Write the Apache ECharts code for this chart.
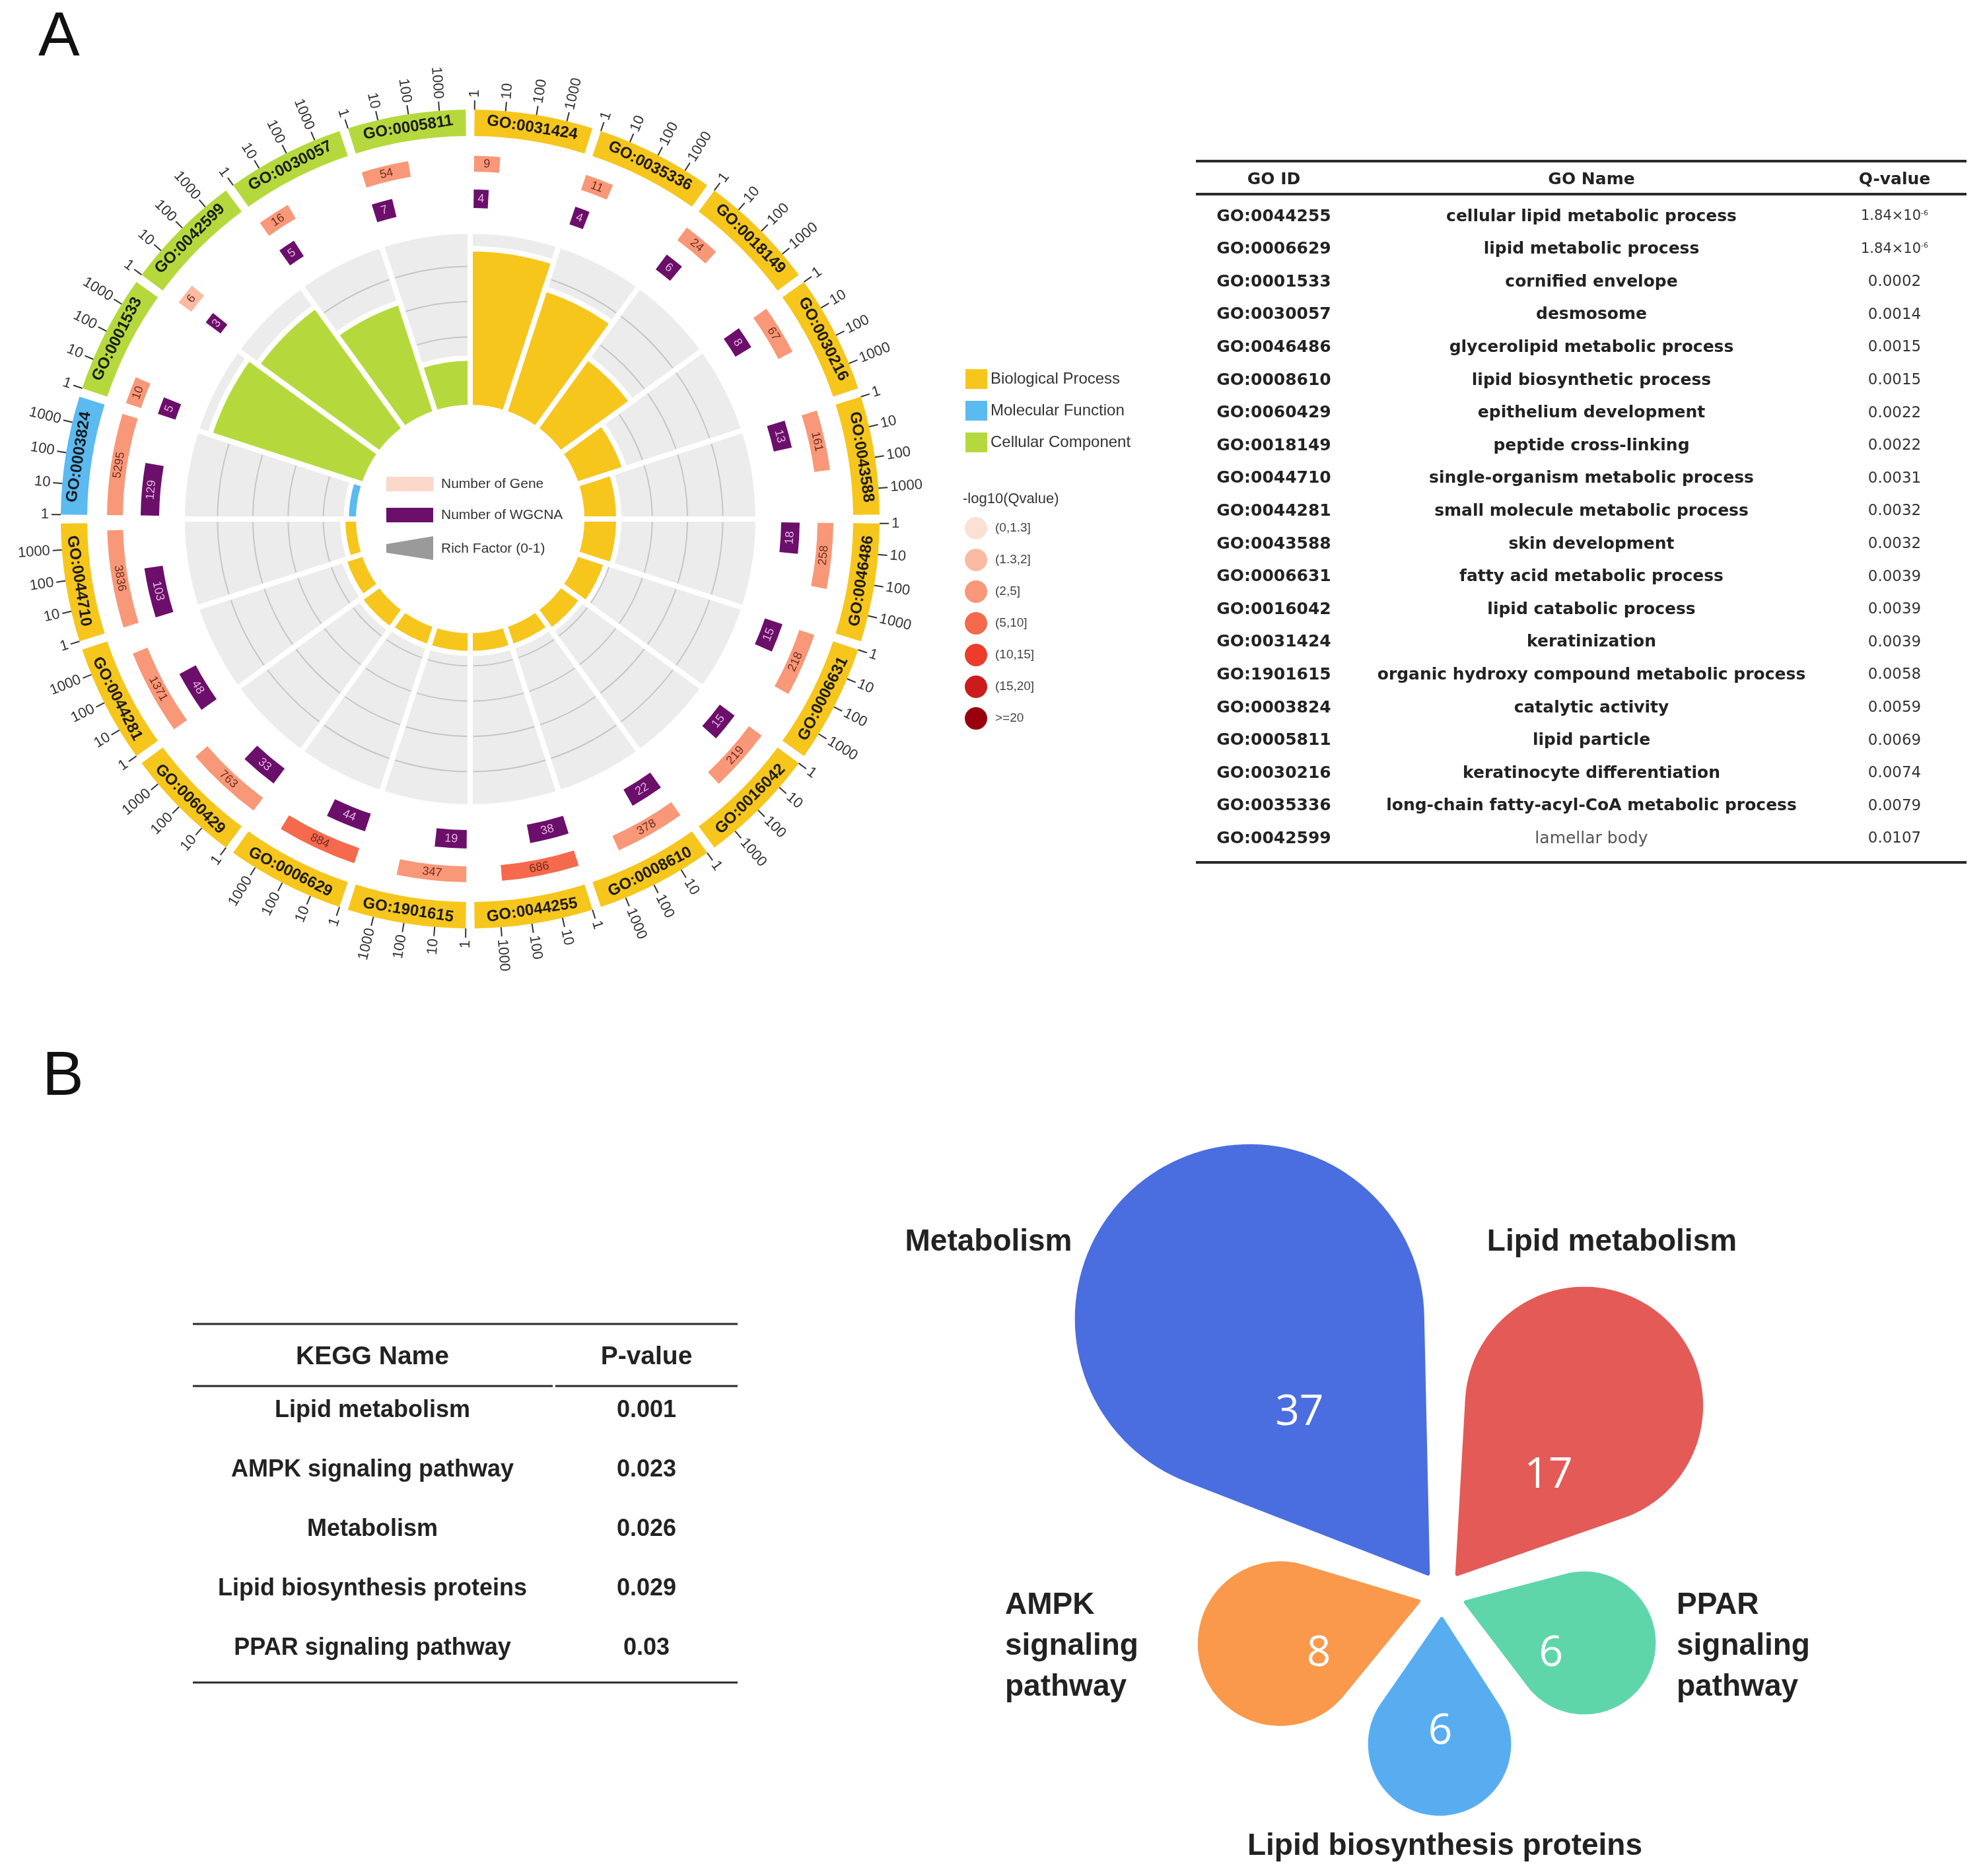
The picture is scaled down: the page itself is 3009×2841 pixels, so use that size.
<!DOCTYPE html>
<html><head><meta charset="utf-8">
<script src="https://cdn.jsdelivr.net/npm/echarts@6/dist/echarts.min.js"></script>
<style>html,body{margin:0;padding:0;background:#fff}#c{width:3009px;height:2841px}</style>
</head><body><div id="c"></div>
<script>
// ================= DATA =================
// Panel A – GO circle (clockwise from 12 o'clock)
const goIds = ['GO:0031424','GO:0035336','GO:0018149','GO:0030216','GO:0043588','GO:0046486','GO:0006631','GO:0016042','GO:0008610','GO:0044255','GO:1901615','GO:0006629','GO:0060429','GO:0044281','GO:0044710','GO:0003824','GO:0001533','GO:0042599','GO:0030057','GO:0005811'];
const goCategory = ['BP','BP','BP','BP','BP','BP','BP','BP','BP','BP','BP','BP','BP','BP','BP','MF','CC','CC','CC','CC'];
const geneCounts = [9,11,24,67,161,258,218,219,378,686,347,884,763,1371,3836,5295,10,6,16,54];
const wgcnaCounts = [4,4,6,8,13,18,15,15,22,38,19,44,33,48,103,129,5,3,5,7];
const richFactor = [0.90,0.74,0.50,0.29,0.21,0.21,0.18,0.15,0.13,0.13,0.13,0.13,0.14,0.12,0.09,0.07,0.92,0.86,0.66,0.28];
const categoryKeys = ['BP','MF','CC'];
const categoryNames = ['Biological Process','Molecular Function','Cellular Component'];
const tickValues = [1,10,100,1000];
const richGridLevels = [0.2,0.4,0.6,0.8];
const qLegendLabels = ['(0,1.3]','(1.3,2]','(2,5]','(5,10]','(10,15]','(15,20]','>=20'];
const qLegendBounds = [[0,1.3],[1.3,2],[2,5],[5,10],[10,15],[15,20],[20,null]];

// Panel A – GO table
const tableIds = ['GO:0044255','GO:0006629','GO:0001533','GO:0030057','GO:0046486','GO:0008610','GO:0060429','GO:0018149','GO:0044710','GO:0044281','GO:0043588','GO:0006631','GO:0016042','GO:0031424','GO:1901615','GO:0003824','GO:0005811','GO:0030216','GO:0035336','GO:0042599'];
const tableNames = ['cellular lipid metabolic process','lipid metabolic process','cornified envelope','desmosome','glycerolipid metabolic process','lipid biosynthetic process','epithelium development','peptide cross-linking','single-organism metabolic process','small molecule metabolic process','skin development','fatty acid metabolic process','lipid catabolic process','keratinization','organic hydroxy compound metabolic process','catalytic activity','lipid particle','keratinocyte differentiation','long-chain fatty-acyl-CoA metabolic process','lamellar body'];
const tableQ = [1.84e-6,1.84e-6,0.0002,0.0014,0.0015,0.0015,0.0022,0.0022,0.0031,0.0032,0.0032,0.0039,0.0039,0.0039,0.0058,0.0059,0.0069,0.0074,0.0079,0.0107];

// Panel B – KEGG table and petal chart
const keggNames = ['Lipid metabolism','AMPK signaling pathway','Metabolism','Lipid biosynthesis proteins','PPAR signaling pathway'];
const keggP = ['0.001','0.023','0.026','0.029','0.03'];
const petalNames = ['Metabolism','Lipid metabolism','PPAR signaling pathway','Lipid biosynthesis proteins','AMPK signaling pathway'];
const petalCounts = [37,17,6,6,8];

// ================= STYLE / LAYOUT =================
const CX = 712, CY = 786;
const catColors = {BP:'#f6c61c', MF:'#5bbaf0', CC:'#b5d93c'};
const qColors = ['#fde0d4','#fbbba3','#f99878','#f5694c','#ee3b2c','#cb1b1d','#99000d'];
const petalColors = ['#4a6ee0','#e45a57','#5ed6a9','#58adf1','#fa994b'];
const SECTOR = 360 / goIds.length;
const PAD_DEG = 0.62;
const DEG_PER_DECADE = 4.35;
const RING = {wgcna:[471,499], gene:[526,550], label:[580,620], tick:[620,634], tickLabel:638};
const PETAL_START = -35, PETAL_STEP = 72, PETAL_TIP = 0.88, PETAL_STRETCH = 1.8;

// ================= HELPERS =================
const qOf = id => tableQ[tableIds.indexOf(id)];
function scrAngle(p, cs){ return Math.atan2(p[1]-cs.cy, p[0]-cs.cx); }
function dist(p, cs){ return Math.hypot(p[0]-cs.cx, p[1]-cs.cy); }
function normRot(r){ let f=false; while(r>Math.PI/2){r-=Math.PI;f=!f;} while(r<=-Math.PI/2){r+=Math.PI;f=!f;} return {rot:r, flip:f}; }
function tangentRot(t){ return normRot(-(t+Math.PI/2)).rot; }
function radialRot(t){ return normRot(-t); }
function sectorShape(api, cs, r0, r1, a0, a1){
  const p0 = api.coord([r1, a0]), p1 = api.coord([r1, a1]), q0 = api.coord([r0, a0]);
  const t0 = scrAngle(p0, cs); let t1 = scrAngle(p1, cs);
  while (t1 <= t0) t1 += 2*Math.PI;
  return {cx:cs.cx, cy:cs.cy, r0:dist(q0,cs), r:dist(p0,cs), startAngle:t0, endAngle:t1, clockwise:true};
}
const sectorStart = i => i*SECTOR + PAD_DEG;

// grey background + grid arcs of rich-factor track
function gridRender(params, api){
  const cs = params.coordSys; const i = api.value(1);
  const half = Math.abs(scrAngle(api.coord([0,1]),cs) - scrAngle(api.coord([0,0]),cs))/2;
  const tc = scrAngle(api.coord([0,i]), cs);
  const rIn = dist(api.coord([0,i]),cs), rOut = dist(api.coord([1,i]),cs);
  const ch = [{type:'sector', shape:{cx:cs.cx, cy:cs.cy, r0:rIn, r:rOut, startAngle:tc-half, endAngle:tc+half, clockwise:true},
    style:{fill:'#ececec', stroke:'#fff', lineWidth:8}}];
  richGridLevels.forEach(lv => {
    const r = dist(api.coord([lv,i]),cs); const ins = 4.5/r;
    ch.push({type:'arc', shape:{cx:cs.cx, cy:cs.cy, r, startAngle:tc-half+ins, endAngle:tc+half-ins, clockwise:true},
      style:{stroke:'#c6c6c6', lineWidth:2, fill:'none'}});
  });
  return {type:'group', children:ch};
}
function labelRingRender(params, api){
  const cs = params.coordSys; const i = api.value(0);
  const a0 = i*SECTOR + PAD_DEG, a1 = (i+1)*SECTOR - PAD_DEG;
  const sh = sectorShape(api, cs, RING.label[0], RING.label[1], a0, a1);
  const mid = api.coord([(RING.label[0]+RING.label[1])/2, (a0+a1)/2]);
  return {type:'group', children:[
    {type:'sector', shape:sh, style:{fill:catColors[goCategory[i]]}},
    {type:'text', x:mid[0], y:mid[1], rotation:tangentRot(scrAngle(mid,cs)),
      style:{text:goIds[i], font:'bold 24px "Liberation Sans"', fill:'#1b1b1b', align:'center', verticalAlign:'middle'}}
  ]};
}
function tickRender(params, api){
  const cs = params.coordSys; const i = api.value(0); const ch = [];
  tickValues.forEach(tv => {
    const a = sectorStart(i) + Math.log10(tv)*DEG_PER_DECADE;
    const p0 = api.coord([RING.tick[0],a]), p1 = api.coord([RING.tick[1],a]), pl = api.coord([RING.tickLabel,a]);
    ch.push({type:'line', shape:{x1:p0[0],y1:p0[1],x2:p1[0],y2:p1[1]}, style:{stroke:'#333', lineWidth:2}});
    const rr = radialRot(scrAngle(pl,cs));
    ch.push({type:'text', x:pl[0], y:pl[1], rotation:rr.rot,
      style:{text:String(tv), align:rr.flip?'right':'left', verticalAlign:'middle', font:'22px "Liberation Sans"', fill:'#333'}});
  });
  return {type:'group', children:ch};
}
function countBarRender(ring, textColor){
  return function(params, api){
    const cs = params.coordSys; const i = api.value(0), n = api.value(1);
    const a0 = sectorStart(i), a1 = a0 + Math.log10(n)*DEG_PER_DECADE;
    const sh = sectorShape(api, cs, ring[0], ring[1], a0, a1);
    const mid = api.coord([(ring[0]+ring[1])/2, (a0+a1)/2]);
    return {type:'group', children:[
      {type:'sector', shape:sh, style:{fill:api.visual('color')}},
      {type:'text', x:mid[0], y:mid[1], rotation:tangentRot(scrAngle(mid,cs)),
        style:{text:String(n), font:'18px "Liberation Sans"', fill:textColor, align:'center', verticalAlign:'middle'}}
    ]};
  };
}
function petalRender(params, api){
  const cs = params.coordSys; const k = api.value(0), v = api.value(1);
  const s = Math.sqrt(v); const ang = PETAL_START + k*PETAL_STEP;
  const T = api.coord([PETAL_TIP, ang]);
  const C = api.coord([PETAL_TIP + PETAL_STRETCH*s, ang]);
  const rho = dist(api.coord([s, ang]), cs);
  const dx = T[0]-C[0], dy = T[1]-C[1]; const d = Math.hypot(dx,dy);
  const beta = Math.atan2(dy,dx), alpha = Math.asin(rho/d);
  const sA = beta + (Math.PI/2 - alpha), eA = beta + 2*Math.PI - (Math.PI/2 - alpha);
  const pts = [[T[0],T[1]]];
  for (let j=0;j<=90;j++){ const a = sA + (eA-sA)*j/90; pts.push([C[0]+rho*Math.cos(a), C[1]+rho*Math.sin(a)]); }
  const lx = C[0] + 0.28*dx, ly = C[1] + 0.28*dy + 34;
  return {type:'group', children:[
    {type:'polygon', shape:{points:pts}, style:{fill:petalColors[k], stroke:petalColors[k], lineWidth:6, lineJoin:'round'}},
    {type:'text', x:lx, y:ly, style:{text:String(v), font:'64px "Liberation Sans Narrow", "Open Sans"', fill:'#fff', align:'center', verticalAlign:'middle'}}
  ]};
}

// ================= SERIES =================
const series = [];
series.push({type:'custom', name:'grid', coordinateSystem:'polar', polarIndex:0, z:1, silent:true,
  data: goIds.map((id,i)=>[0,i]), renderItem: gridRender});
categoryKeys.forEach((key, ci) => {
  series.push({type:'bar', name:categoryNames[ci], coordinateSystem:'polar', polarIndex:0, z:2,
    data: richFactor.map((v,i)=> goCategory[i]===key ? v : null),
    barCategoryGap:'0%', barGap:'-100%', silent:true,
    itemStyle:{color:catColors[key], borderColor:'#fff', borderWidth:8}});
});
series.push({type:'custom', name:'labels', coordinateSystem:'polar', polarIndex:1, z:3, silent:true,
  data: goIds.map((id,i)=>[i,0]), renderItem: labelRingRender});
series.push({type:'custom', name:'ticks', coordinateSystem:'polar', polarIndex:1, z:3, silent:true,
  data: goIds.map((id,i)=>[i,0]), renderItem: tickRender});
const GENE_SERIES = series.length;
series.push({type:'custom', name:'Number of Gene', coordinateSystem:'polar', polarIndex:1, z:3, silent:true,
  data: geneCounts.map((n,i)=>[i, n, -Math.log10(qOf(goIds[i]))]), renderItem: countBarRender(RING.gene, '#6d2e22')});
series.push({type:'custom', name:'Number of WGCNA', coordinateSystem:'polar', polarIndex:1, z:3, silent:true,
  itemStyle:{color:'#6b0f6a'},
  data: wgcnaCounts.map((n,i)=>[i, n]), renderItem: countBarRender(RING.wgcna, '#e3b3df')});
series.push({type:'custom', name:'petals', coordinateSystem:'polar', polarIndex:2, z:3, silent:true,
  data: petalCounts.map((v,k)=>[k, v]), renderItem: petalRender});

// ================= GRAPHIC (letters, tables, legends text) =================
const g = [];
const T = (x,y,text,font,opt) => Object.assign({type:'text', x, y, style:Object.assign({text, font, fill:'#222', align:'center', verticalAlign:'middle'}, opt||{})});
const L = (x1,y1,x2,y2,w) => ({type:'line', shape:{x1,y1,x2,y2}, style:{stroke:'#2a2a2a', lineWidth:w}});
g.push(T(58,58,'A','94px "Liberation Sans"',{align:'left', fill:'#111'}));
g.push(T(64,1632,'B','94px "Liberation Sans"',{align:'left', fill:'#111'}));
// inner legend
g.push({type:'rect', shape:{x:585,y:722,width:71,height:22}, style:{fill:'#fcd8cb'}});
g.push({type:'rect', shape:{x:585,y:769,width:71,height:22}, style:{fill:'#6b0f6a'}});
g.push({type:'polygon', shape:{points:[[585,824],[656,812],[656,848],[585,837]]}, style:{fill:'#9a9a9a'}});
g.push(T(668,733,'Number of Gene','21px "Liberation Sans"',{align:'left', fill:'#333'}));
g.push(T(668,780,'Number of WGCNA','21px "Liberation Sans"',{align:'left', fill:'#333'}));
g.push(T(668,831,'Rich Factor (0-1)','21px "Liberation Sans"',{align:'left', fill:'#333'}));
g.push(T(1458,756,'-log10(Qvalue)','22px "Liberation Sans"',{align:'left', fill:'#333'}));
// GO table
const gx0 = 1811, gx1 = 2978;
g.push(L(gx0,244,gx1,244,4)); g.push(L(gx0,294,gx1,294,4)); g.push(L(gx0,1306,gx1,1306,4));
const colId = 1929, colName = 2410, colQ = 2869;
const TF = 'bold 25px "DejaVu Sans"';
g.push(T(colId,272,'GO ID',TF));
g.push(T(colName,272,'GO Name',TF));
g.push(T(colQ,272,'Q-value',TF));
tableIds.forEach((id,k) => {
  const y = 328 + k*49.6;
  g.push(T(colId,y,id,TF));
  const light = tableNames[k] === 'lamellar body';
  g.push(T(colName,y,tableNames[k], light ? '25px "DejaVu Sans"' : TF, light?{fill:'#555'}:{}));
  const q = tableQ[k];
  if (q < 1e-4) {
    const e = Math.floor(Math.log10(q)); const m = (q/Math.pow(10,e)).toFixed(2);
    g.push({type:'text', x:colQ, y:y, style:{text:'{a|'+m+'×10}{s|'+e+'}', align:'center', verticalAlign:'middle',
      rich:{a:{font:'21px "DejaVu Sans"', fill:'#333'}, s:{font:'11px "DejaVu Sans"', fill:'#333', verticalAlign:'top'}}}});
  } else {
    g.push(T(colQ,y,q.toFixed(4),'23px "DejaVu Sans"',{fill:'#333'}));
  }
});
// KEGG table
g.push(L(292,2005,1117,2005,3)); g.push(L(292,2099,837,2099,3)); g.push(L(841,2099,1117,2099,3)); g.push(L(292,2548,1117,2548,3));
g.push(T(564,2055,'KEGG Name','bold 39px "Liberation Sans"'));
g.push(T(979,2055,'P-value','bold 39px "Liberation Sans"'));
keggNames.forEach((n,k) => {
  const y = 2136 + k*90;
  g.push(T(564,y,n,'bold 36px "Liberation Sans"'));
  g.push(T(979,y,keggP[k],'bold 36px "Liberation Sans"'));
});
// petal labels
const PF = 'bold 46px "Liberation Sans"';
g.push(T(1497,1881,petalNames[0],PF));
g.push(T(2441,1881,petalNames[1],PF));
g.push(T(2539,2493,petalNames[2].replace(/ /g,'\n'),PF,{align:'left', lineHeight:62}));
g.push(T(2188,2796,petalNames[3],PF));
g.push(T(1522,2493,petalNames[4].replace(/ /g,'\n'),PF,{align:'left', lineHeight:62}));

// ================= OPTION =================
const option = {
  animation:false,
  backgroundColor:'#fff',
  polar:[
    {center:[CX,CY], radius:[169,436]},
    {center:[CX,CY], radius:[0,700]},
    {center:[2184,2414], radius:[0,602]}
  ],
  angleAxis:[
    {polarIndex:0, type:'category', data:goIds, startAngle:90, clockwise:true, show:false},
    {polarIndex:1, type:'value', min:0, max:360, startAngle:90, clockwise:true, show:false},
    {polarIndex:2, type:'value', min:0, max:360, startAngle:90, clockwise:true, show:false}
  ],
  radiusAxis:[
    {polarIndex:0, type:'value', min:0, max:1, show:false},
    {polarIndex:1, type:'value', min:0, max:700, show:false},
    {polarIndex:2, type:'value', min:0, max:14, show:false}
  ],
  legend:{data:categoryNames, orient:'vertical', left:1462, top:559, itemWidth:33, itemHeight:30, itemGap:18,
    icon:'rect', selectedMode:false, padding:0, itemStyle:{borderWidth:0},
    textStyle:{fontSize:24, color:'#333', fontFamily:'Liberation Sans'}},
  visualMap:{type:'piecewise', seriesIndex:GENE_SERIES, dimension:2, orient:'vertical', inverse:true,
    left:1461, top:783, padding:0, itemWidth:34, itemHeight:34, itemGap:14, itemSymbol:'circle', textGap:12,
    hoverLink:false, selectedMode:false, align:'left',
    textStyle:{fontSize:19, color:'#444', fontFamily:'Liberation Sans'},
    pieces: qLegendLabels.map((lab,k)=>{
      const b = qLegendBounds[k];
      const p = {label:lab, color:qColors[k]};
      if (b[1]===null) p.gte = b[0]; else { p.gt = b[0]; p.lte = b[1]; }
      return p;
    })},
  graphic:g,
  series
};
const chart = echarts.init(document.getElementById('c'), null, {renderer:'canvas'});
chart.setOption(option);
</script></body></html>
